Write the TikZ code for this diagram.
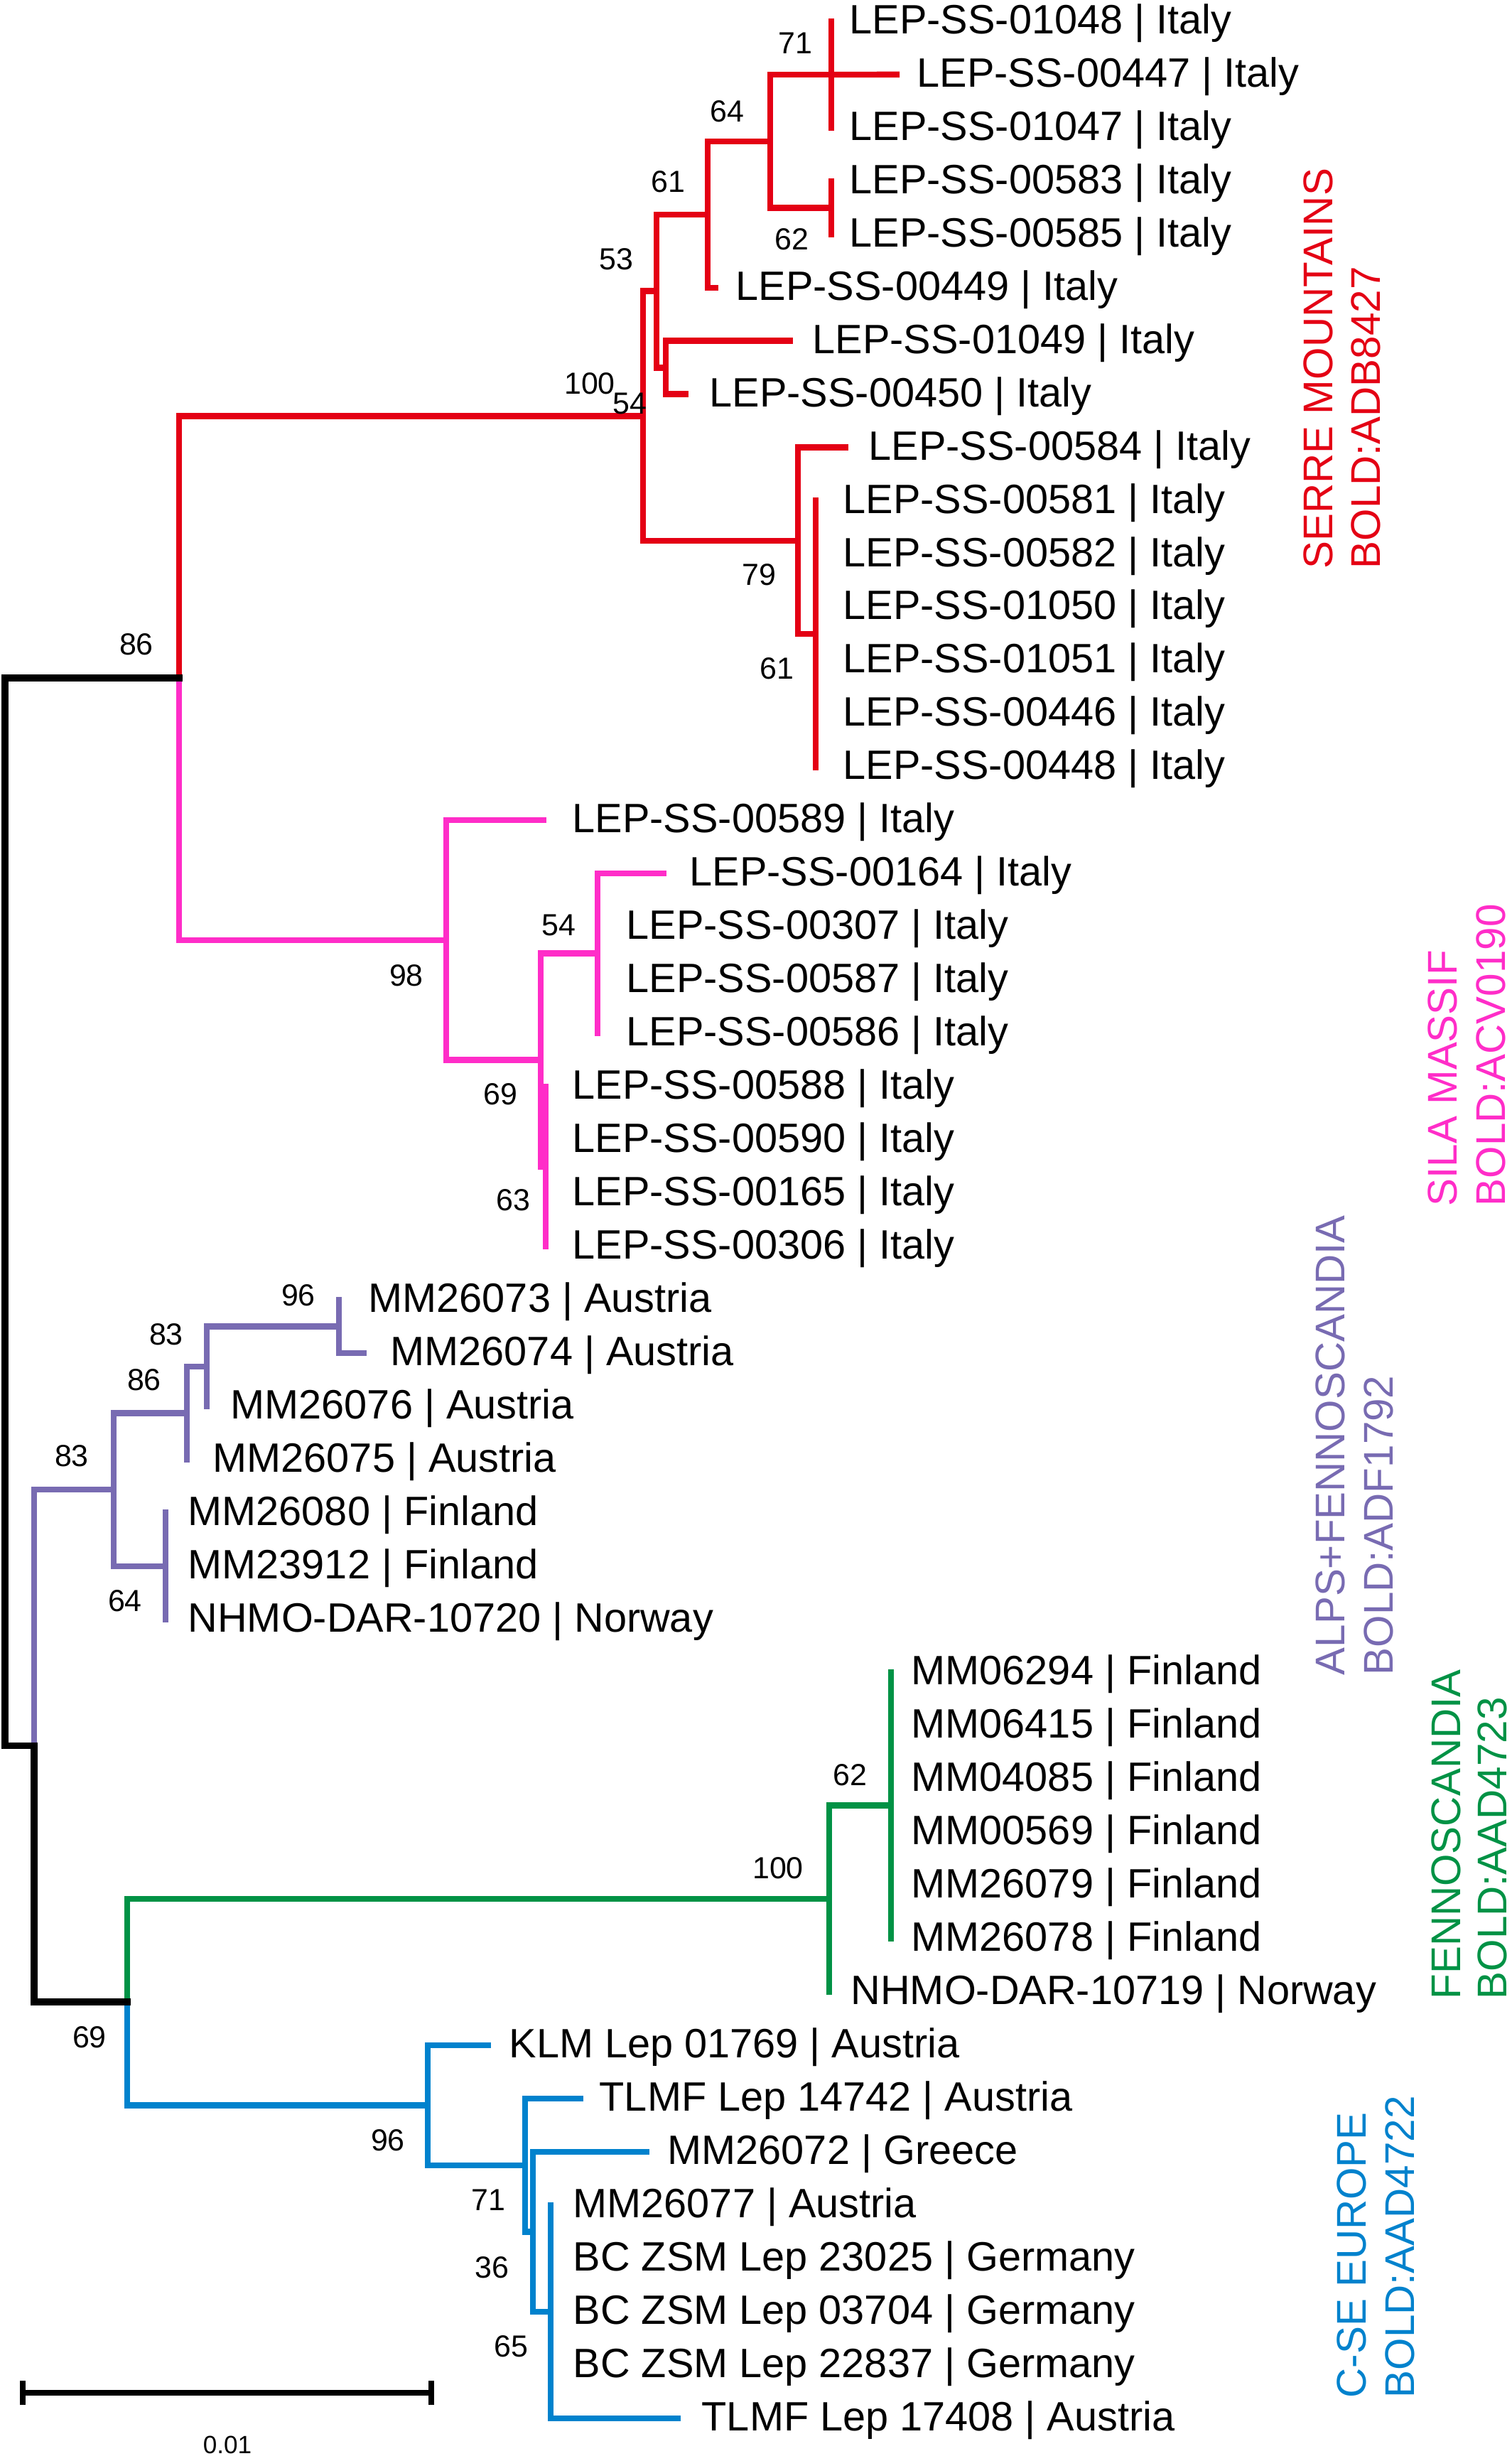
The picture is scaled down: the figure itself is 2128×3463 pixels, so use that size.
\documentclass[tikz,border=0pt]{standalone}
\usepackage{fontspec}
\setmainfont{Liberation Sans}
\definecolor{cred}{RGB}{228,0,20}
\definecolor{cmag}{RGB}{255,45,200}
\definecolor{cpur}{RGB}{120,107,178}
\definecolor{cgrn}{RGB}{0,146,69}
\definecolor{cblu}{RGB}{0,130,205}
\tikzset{
  br/.style={line width=2.4pt, line cap=rect},
  tip/.style={anchor=base west, inner sep=0pt, yshift=-0.175cm, font=\fontsize{16.4pt}{19pt}\selectfont},
  bs/.style={inner sep=0pt, font=\fontsize{12.2pt}{14pt}\selectfont},
  clade/.style={rotate=90, anchor=west, inner sep=0pt, font=\fontsize{16.6pt}{19pt}\selectfont},
}
\begin{document}
\begin{tikzpicture}[x=0.01cm, y=-0.01cm]
\useasboundingbox (0,0) rectangle (2128,3463);
% leaves: index / branch end x / text x / label
\foreach \i/\xe/\xt/\lab in {
 0/1170/1195/LEP-SS-01048 | Italy,
 1/1262/1290/LEP-SS-00447 | Italy,
 2/1170/1195/LEP-SS-01047 | Italy,
 3/1170/1195/LEP-SS-00583 | Italy,
 4/1170/1195/LEP-SS-00585 | Italy,
 5/1007/1035/LEP-SS-00449 | Italy,
 6/1112/1143/LEP-SS-01049 | Italy,
 7/965/998/LEP-SS-00450 | Italy,
 8/1190/1222/LEP-SS-00584 | Italy,
 9/1148/1186/LEP-SS-00581 | Italy,
 10/1148/1186/LEP-SS-00582 | Italy,
 11/1148/1186/LEP-SS-01050 | Italy,
 12/1148/1186/LEP-SS-01051 | Italy,
 13/1148/1186/LEP-SS-00446 | Italy,
 14/1148/1186/LEP-SS-00448 | Italy,
 15/765/805/LEP-SS-00589 | Italy,
 16/934/970/LEP-SS-00164 | Italy,
 17/841/881/LEP-SS-00307 | Italy,
 18/841/881/LEP-SS-00587 | Italy,
 19/841/881/LEP-SS-00586 | Italy,
 20/768/805/LEP-SS-00588 | Italy,
 21/768/805/LEP-SS-00590 | Italy,
 22/768/805/LEP-SS-00165 | Italy,
 23/768/805/LEP-SS-00306 | Italy,
 24/477/518/MM26073 | Austria,
 25/512/549/MM26074 | Austria,
 26/291/324/MM26076 | Austria,
 27/263/299/MM26075 | Austria,
 28/233/264/MM26080 | Finland,
 29/233/264/MM23912 | Finland,
 30/233/264/NHMO-DAR-10720 | Norway,
 31/1254/1282/MM06294 | Finland,
 32/1254/1282/MM06415 | Finland,
 33/1254/1282/MM04085 | Finland,
 34/1254/1282/MM00569 | Finland,
 35/1254/1282/MM26079 | Finland,
 36/1254/1282/MM26078 | Finland,
 37/1167/1197/NHMO-DAR-10719 | Norway,
 38/687/716/KLM Lep 01769 | Austria,
 39/817/843/TLMF Lep 14742 | Austria,
 40/910/939/MM26072 | Greece,
 41/775/806/MM26077 | Austria,
 42/775/806/BC ZSM Lep 23025 | Germany,
 43/775/806/BC ZSM Lep 03704 | Germany,
 44/775/806/BC ZSM Lep 22837 | Germany,
 45/954/987/TLMF Lep 17408 | Austria}
{
  \coordinate (L\i) at (\xe,{30+74.95*\i});
  \node[tip] (T\i) at (\xt,{30+74.95*\i}) {\lab};
}
% internal nodes
\coordinate (n71) at (1170,105);
\coordinate (n62) at (1170,292.5);
\coordinate (n64) at (1084,198.75);
\coordinate (n61) at (996,301.9);
\coordinate (n54a) at (937,517.5);
\coordinate (n53) at (924,409.7);
\coordinate (r61) at (1148,892);
\coordinate (r79) at (1123,761);
\coordinate (r100) at (905,585.4);
\coordinate (m54) at (841,1341.5);
\coordinate (m63) at (768,1641.5);
\coordinate (m69) at (761,1491.5);
\coordinate (m98) at (628,1322.75);
\coordinate (nA) at (252,954);
\coordinate (p96) at (477,1866.5);
\coordinate (p83b) at (291,1922.75);
\coordinate (p86) at (263,1988.4);
\coordinate (p64) at (233,2204);
\coordinate (p83) at (160,2096.2);
\coordinate (g62) at (1254,2540.5);
\coordinate (g100) at (1167,2671.75);
\coordinate (b65) at (775,3253);
\coordinate (b36) at (750,3140.5);
\coordinate (b71) at (739,3046.75);
\coordinate (b96) at (602,2962.4);
\coordinate (nC) at (179,2817);
\coordinate (nB) at (48,2456.6);
\coordinate (root) at (7,1705);
% red clade
\begin{scope}[br, draw=cred]
\draw (n71 |- L0) -- (n71 |- L2);
\draw (n71) -- (L1);
\draw (n62 |- L3) -- (n62 |- L4);
\draw (n64 |- n71) -- (n64 |- n62);
\draw (n64 |- n71) -- (n71);
\draw (n64 |- n62) -- (n62);
\draw (n61 |- n64) -- (n61 |- L5);
\draw (n61 |- n64) -- (n64);
\draw (n61 |- L5) -- (L5);
\draw (n54a |- L6) -- (n54a |- L7);
\draw (n54a |- L6) -- (L6);
\draw (n54a |- L7) -- (L7);
\draw (n53 |- n61) -- (n53 |- n54a);
\draw (n53 |- n61) -- (n61);
\draw (n53 |- n54a) -- (n54a);
\draw (r61 |- L9) -- (r61 |- L14);
\draw (r79 |- L8) -- (r79 |- r61);
\draw (r79 |- L8) -- (L8);
\draw (r79 |- r61) -- (r61);
\draw (r100 |- n53) -- (r100 |- r79);
\draw (r100 |- n53) -- (n53);
\draw (r100 |- r79) -- (r79);
\draw (nA |- r100) -- (nA);
\draw (nA |- r100) -- (r100);
\end{scope}
% magenta clade
\begin{scope}[br, draw=cmag]
\draw (m54 |- L16) -- (m54 |- L19);
\draw (m54 |- L16) -- (L16);
\draw (m63 |- L20) -- (m63 |- L23);
\draw (m69 |- m54) -- (m69 |- m63);
\draw (m69 |- m54) -- (m54);
\draw (m69 |- m63) -- (m63);
\draw (m98 |- L15) -- (m98 |- m69);
\draw (m98 |- L15) -- (L15);
\draw (m98 |- m69) -- (m69);
\draw (nA) -- (nA |- m98);
\draw (nA |- m98) -- (m98);
\end{scope}
% purple clade
\begin{scope}[br, draw=cpur]
\draw (p96 |- L24) -- (p96 |- L25);
\draw (p96 |- L25) -- (L25);
\draw (p83b |- p96) -- (p83b |- L26);
\draw (p83b |- p96) -- (p96);
\draw (p86 |- p83b) -- (p86 |- L27);
\draw (p86 |- p83b) -- (p83b);
\draw (p64 |- L28) -- (p64 |- L30);
\draw (p83 |- p86) -- (p83 |- p64);
\draw (p83 |- p86) -- (p86);
\draw (p83 |- p64) -- (p64);
\draw (nB |- p83) -- (nB);
\draw (nB |- p83) -- (p83);
\end{scope}
% green clade
\begin{scope}[br, draw=cgrn]
\draw (g62 |- L31) -- (g62 |- L36);
\draw (g100 |- g62) -- (g100 |- L37);
\draw (g100 |- g62) -- (g62);
\draw (nC |- g100) -- (nC);
\draw (nC |- g100) -- (g100);
\end{scope}
% blue clade
\begin{scope}[br, draw=cblu]
\draw (b65 |- L41) -- (b65 |- L45);
\draw (b65 |- L45) -- (L45);
\draw (b36 |- L40) -- (b36 |- b65);
\draw (b36 |- L40) -- (L40);
\draw (b36 |- b65) -- (b65);
\draw (b71 |- L39) -- (b71 |- b36);
\draw (b71 |- L39) -- (L39);
\draw (b71 |- b36) -- (b36);
\draw (b96 |- L38) -- (b96 |- b71);
\draw (b96 |- L38) -- (L38);
\draw (b96 |- b71) -- (b71);
\draw (nC) -- (nC |- b96);
\draw (nC |- b96) -- (b96);
\end{scope}
% black backbone
\begin{scope}[br, draw=black, line width=2.7pt]
\draw (root |- nA) -- (root |- nB);
\draw (root |- nA) -- (nA);
\draw (root |- nB) -- (nB);
\draw (nB) -- (nB |- nC);
\draw (nB |- nC) -- (nC);
\end{scope}
% bootstrap values
\node[bs] (s1) at (1119,61) {71};
\node[bs] (s2) at (1023,157) {64};
\node[bs] (s3) at (940,256) {61};
\node[bs] (s4) at (1114,337) {62};
\node[bs] (s5) at (867,365) {53};
\node[bs] (s6) at (830,540) {100};
\node[bs] (s7) at (886,568) {54};
\node[bs] (s8) at (1068,809) {79};
\node[bs] (s9) at (1093,941) {61};
\node[bs] (s10) at (192,907) {86};
\node[bs] (s11) at (572,1373) {98};
\node[bs] (s12) at (786,1302) {54};
\node[bs] (s13) at (704,1540) {69};
\node[bs] (s14) at (722,1689) {63};
\node[bs] (s15) at (420,1823) {96};
\node[bs] (s16) at (234,1878) {83};
\node[bs] (s17) at (203,1942) {86};
\node[bs] (s18) at (101,2049) {83};
\node[bs] (s19) at (176,2253) {64};
\node[bs] (s20) at (1196,2498) {62};
\node[bs] (s21) at (1095,2629) {100};
\node[bs] (s22) at (126,2867) {69};
\node[bs] (s23) at (546,3012) {96};
\node[bs] (s24) at (687,3096) {71};
\node[bs] (s25) at (692,3191) {36};
\node[bs] (s26) at (719,3302) {65};
% clade labels
\node[clade, text=cred] (c1a) at (1855,801) {SERRE MOUNTAINS};
\node[clade, text=cred] (c1b) at (1922,801) {BOLD:ADB8427};
\node[clade, text=cmag] (c2a) at (2030,1698) {SILA MASSIF};
\node[clade, text=cmag] (c2b) at (2098,1698) {BOLD:ACV0190};
\node[clade, text=cpur] (c3a) at (1872,2358) {ALPS+FENNOSCANDIA};
\node[clade, text=cpur] (c3b) at (1940,2358) {BOLD:ADF1792};
\node[clade, text=cgrn] (c4a) at (2035,2814) {FENNOSCANDIA};
\node[clade, text=cgrn] (c4b) at (2100,2814) {BOLD:AAD4723};
\node[clade, text=cblu] (c5a) at (1902,3375) {C-SE EUROPE};
\node[clade, text=cblu] (c5b) at (1970,3375) {BOLD:AAD4722};
% scale bar
\coordinate (sbL) at (32,3367);
\coordinate (sbR) at (607,3367);
\draw[line width=2.4pt] (sbL) -- (sbR);
\draw[line width=2.4pt] ([yshift=0.17cm]sbL) -- ([yshift=-0.17cm]sbL);
\draw[line width=2.4pt] ([yshift=0.17cm]sbR) -- ([yshift=-0.17cm]sbR);
\node[inner sep=0pt, font=\fontsize{10pt}{12pt}\selectfont] (sblab) at (320,3440) {0.01};
\end{tikzpicture}
\end{document}
